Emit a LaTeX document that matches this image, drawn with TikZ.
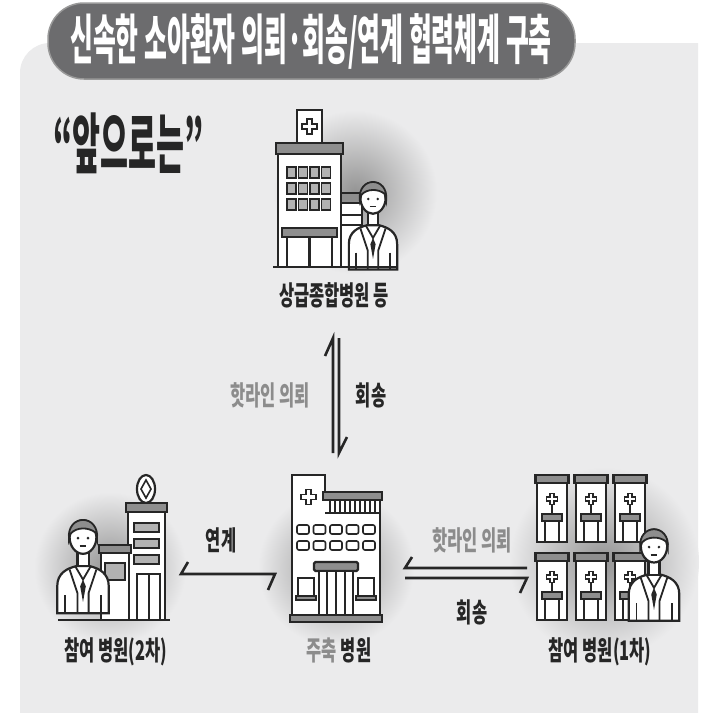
\documentclass[tikz,border=0pt]{standalone}
\usepackage{fontspec}
\newfontfamily\krhead[FakeStretch=0.46,BoldFont={Noto Sans CJK KR Black}]{Noto Sans CJK KR}
\newfontfamily\kr[FakeStretch=0.61,BoldFont={Noto Sans CJK KR Black}]{Noto Sans CJK KR}
\definecolor{panel}{HTML}{EBEBEC}
\definecolor{pill}{HTML}{6C6C6E}
\definecolor{ink}{HTML}{262626}
\definecolor{soft}{HTML}{8C8C8C}
\definecolor{band}{HTML}{8E8E8E}

\tikzset{
 ic/.style={draw=ink,line width=2.2pt,fill=white},
 icband/.style={ic,fill=band},
 % outlined plus sign
 cross/.pic={
  \draw[ic,line width=1.6pt,pic actions] (-2.5,-7.5) -- (2.5,-7.5) -- (2.5,-2.5) -- (7.5,-2.5) -- (7.5,2.5)
   -- (2.5,2.5) -- (2.5,7.5) -- (-2.5,7.5) -- (-2.5,2.5) -- (-7.5,2.5) -- (-7.5,-2.5) -- (-2.5,-2.5) -- cycle;
 },
 % doctor in a white coat, origin at the head
 medic/.pic={
  \draw[ic] (-23,68) -- (-23,44) .. controls (-23,32) and (-14,28) .. (-6,26) -- (6,26)
   .. controls (14,28) and (23,32) .. (23,44) -- (23,68) -- cycle;
  \draw[ic] (-5,10) rectangle (5,26);
  \draw[ink,line width=1.8pt] (-7,26) -- (0,38) -- (7,26);
  \fill[ink] (0,38) -- (-2.5,44) -- (0,58) -- (2.5,44) -- cycle;
  \draw[ink,line width=1.8pt] (-12,29) -- (-5,50) -- (-5,68) (12,29) -- (5,50) -- (5,68);
  \draw[ink,line width=1.8pt] (-16,52) -- (-16,68) (16,52) -- (16,68);
  \draw[ic] (0,0) ellipse (12 and 15);
  \draw[icband,line width=1.8pt] (-12.5,2) .. controls (-15,-21) and (15,-21) .. (12.5,2)
   -- (11,-4) .. controls (5,-9) and (-6,-9) .. (-11,-3) -- cycle;
  \fill[ink] (-4.5,1) circle (1.3) (4.5,1) circle (1.3);
  \draw[ink,line width=1.4pt] (-3,8) -- (3,8);
 },
 % one consulting booth of a clinic
 booth/.pic={
  \draw[icband] (-1.5,0) rectangle (31.5,8);
  \draw[ic] (0,8) rectangle (30,67);
  \draw[ink,line width=1.6pt] (15,30) -- (15,39);
  \pic[scale=0.75,fill=band] at (15,24) {cross};
  \draw[icband] (5,39) rectangle (25,46);
  \draw[ic,line width=1.8pt] (8,46) rectangle (22,67);
 }
}

\begin{document}
\begin{tikzpicture}[x=1pt,y=-1pt,
 lab/.style={font=\kr\bfseries\fontsize{27}{27}\selectfont,text=ink,inner sep=0pt},
 hint/.style={lab,text=soft},
 flow/.style={draw=ink,line width=2.6pt},
 glow/.style={inner color=black!42,outer color=panel}]
\useasboundingbox (0,0) rectangle (720,712);
\fill[white] (0,0) rectangle (720,712);
\fill[panel] (20,715) [rounded corners=30pt] -- (20,43) [sharp corners] -- (698,43) -- (698,715) -- cycle;

% title bar
\draw[fill=pill,draw=black!40,line width=1.5pt,rounded corners=36pt] (48,3) rectangle (575,79);
\node[font=\krhead\bfseries\fontsize{54}{54}\selectfont,text=white,inner sep=0pt] (title) at (311,41)
 {신속한 소아환자 의뢰·회송/연계 협력체계 구축};
\node[font=\krhead\bfseries\fontsize{66}{66}\selectfont,text=ink,inner sep=0pt,anchor=west] (ahead) at (53,143) {“앞으로는”};

% soft shadows behind the icons
\shade[glow] (355,192) circle (82);
\shade[glow] (110,568) circle (76);
\shade[glow] (336,568) circle (78);
\shade[glow] (604,562) circle (95);

% upper tertiary hospital
\draw[ic] (297,110) rectangle (322,143);
\pic at (309.5,126.5) {cross};
\draw[ic] (340,193) rectangle (362,267);
\draw[icband] (340,193) rectangle (362,203);
\draw[ink,line width=1.6pt] (342,215) -- (362,215) (342,225) -- (362,225);
\draw[icband] (276,143) rectangle (343,154);
\draw[ic] (278,154) rectangle (341,267);
\foreach \r in {0,1,2}
 \foreach \c in {0,1,2,3}
  \draw[ic,fill=black!30,line width=1.6pt] ({287+\c*11.5},{167+\r*16}) rectangle +(9,11);
\draw[icband] (282,228) rectangle (337,237);
\draw[ic] (287,237) rectangle (332,267);
\draw[ink,line width=2.2pt] (309.5,237) -- (309.5,267);
\pic[scale=1.05] at (373,198) {medic};
\draw[ink,line width=2.5pt] (273,267) -- (398,267);
\node[lab] (upper) at (334,295) {상급종합병원 등};

% secondary hospital
\draw[ic] (146,489) ellipse (9 and 14);
\draw[ink,line width=1.6pt] (146,480) -- (151,489) -- (146,498) -- (141,489) -- cycle;
\draw[icband] (126,503) rectangle (167,512);
\draw[ic] (128,512) rectangle (165,620);
\foreach \y in {523,539,555}
 \draw[ic,fill=black!30,line width=1.6pt] (134,\y) rectangle (159,\y+9);
\draw[ic] (137,574) rectangle (160,620);
\draw[ink,line width=2pt] (148.5,574) -- (148.5,620);
\draw[icband] (99,545) rectangle (131,553);
\draw[ic] (101,553) rectangle (129,620);
\draw[ic,fill=black!30,line width=1.8pt] (105,563) rectangle (125,580);
\pic[scale=1.12] at (83,537) {medic};
\draw[ink,line width=2.5pt] (58,620) -- (170,620);
\node[lab] (second) at (116,652) {참여 병원(2차)};

% main hub hospital
\draw[ic] (292,622) -- (292,475) -- (325,475) -- (325,500) -- (380,500) -- (380,622) -- cycle;
\draw[icband] (323,492) rectangle (382,500);
\foreach \x in {330,335,...,375}
 \draw[ink,line width=1.4pt] (\x,500) -- (\x,513);
\draw[ink,line width=2pt] (325,513) -- (380,513);
\pic at (308.5,497) {cross};
\foreach \r in {0,1}
 \foreach \c in {0,...,4}
  \draw[ic,line width=1.6pt,rounded corners=2pt] ({297+\c*16.5},{525+\r*16}) rectangle +(12,9);
\draw[icband,rounded corners=1.5pt] (314,562) rectangle (358,571);
\draw[ic] (319,571) rectangle (353,615);
\foreach \x in {327,336,345}
 \draw[ink,line width=1.8pt] (\x,571) -- (\x,615);
\draw[ic,line width=1.8pt] (298,578) rectangle (314,596);
\draw[ic,line width=1.8pt] (358,578) rectangle (374,596);
\draw[icband,line width=1.6pt] (296,596) rectangle (316,600);
\draw[icband,line width=1.6pt] (356,596) rectangle (376,600);
\draw[icband] (290,615) rectangle (382,622);
\node[lab] (hub) at (339,650) {\textcolor{soft}{주축} 병원};

% primary clinics
\foreach \c in {0,1,2}
 \foreach \r in {0,1}
  \pic at ({537+\c*39},{475+\r*78}) {booth};
\pic[scale=1.1] at (654,546) {medic};
\node[lab] (first) at (600,652) {참여 병원(1차)};

% referral / return links
\coordinate (upA) at (333,453);
\coordinate (upB) at (333,338);
\coordinate (dnA) at (339,338);
\coordinate (dnB) at (339,453);
\draw[flow] (upA) -- (upB) -- ++(-8,18);
\draw[flow] (dnA) -- (dnB) -- ++(8,-16);
\node[hint] (callV) at (270,395) {핫라인 의뢰};
\node[lab] (backV) at (371,395) {회송};

\coordinate (lkA) at (275,574);
\coordinate (lkB) at (181,574);
\draw[flow] (lkA) ++(-7,16) -- (lkA) -- (lkB) -- ++(7,-12);
\node[lab] (link) at (221,540) {연계};

\coordinate (rtA) at (527,568);
\coordinate (rtB) at (405,568);
\coordinate (rtC) at (405,578);
\coordinate (rtD) at (527,578);
\draw[flow] (rtA) -- (rtB) -- ++(7,-11);
\draw[flow] (rtC) -- (rtD) -- ++(-7,15);
\node[hint] (callH) at (472,540) {핫라인 의뢰};
\node[lab] (backH) at (472,612) {회송};
\end{tikzpicture}
\end{document}
